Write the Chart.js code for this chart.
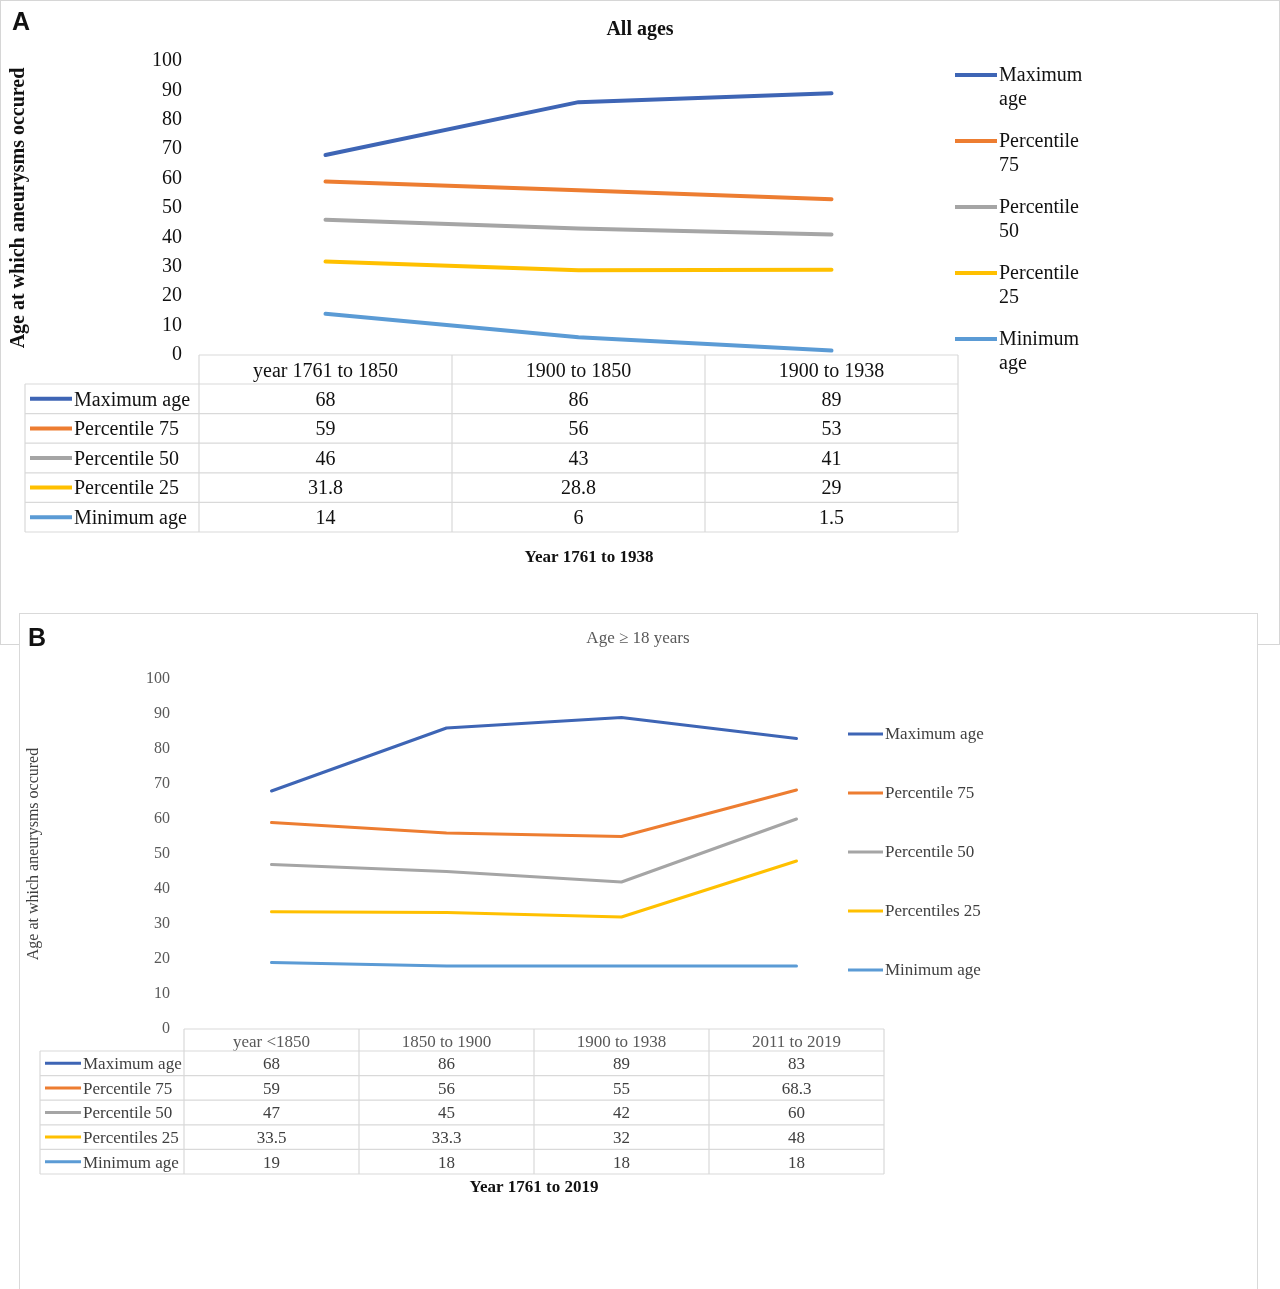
<!DOCTYPE html>
<html>
<head>
<meta charset="utf-8">
<script src="https://cdn.jsdelivr.net/npm/chart.js@4.4.1/dist/chart.umd.min.js"></script>
<style>
  body { margin:0; background:#fff; width:1280px; height:1289px; overflow:hidden; position:relative; }
  .panel { position:absolute; box-sizing:border-box; background:#fff; }
  .tag { position:absolute; font-family:"Liberation Sans", Arial, sans-serif; font-weight:bold; font-size:25px; color:#111; }
  canvas { position:absolute; }
</style>
</head>
<body>
<div class="panel" style="left:0;top:0;width:1280px;height:645px;border:1px solid #d6d6d6;"></div>
<canvas id="chartA" width="1280" height="645" style="left:0;top:0;"></canvas>
<div class="tag" style="left:12px;top:7px;">A</div>

<div class="panel" style="left:19px;top:613px;width:1239px;height:690px;border:1px solid #d9d9d9;"></div>
<canvas id="chartB" width="1238" height="676" style="left:19px;top:613px;"></canvas>
<div class="tag" style="left:28px;top:623px;">B</div>

<script>
var SERIF = "'Liberation Serif', 'Times New Roman', serif";

// panel A : all ages
var categoriesA = ['year 1761 to 1850', '1900 to 1850', '1900 to 1938'];
var maxAgeA = [68, 86, 89];
var p75A = [59, 56, 53];
var p50A = [46, 43, 41];
var p25A = [31.8, 28.8, 29];
var minAgeA = [14, 6, 1.5];
var namesA = ['Maximum age', 'Percentile 75', 'Percentile 50', 'Percentile 25', 'Minimum age'];
var legendA = [['Maximum', 'age'], ['Percentile', '75'], ['Percentile', '50'], ['Percentile', '25'], ['Minimum', 'age']];

// panel B : age >= 18 years
var categoriesB = ['year <1850', '1850 to 1900', '1900 to 1938', '2011 to 2019'];
var maxAgeB = [68, 86, 89, 83];
var p75B = [59, 56, 55, 68.3];
var p50B = [47, 45, 42, 60];
var p25B = [33.5, 33.3, 32, 48];
var minAgeB = [19, 18, 18, 18];
var namesB = ['Maximum age', 'Percentile 75', 'Percentile 50', 'Percentiles 25', 'Minimum age'];
var legendB = [['Maximum age'], ['Percentile 75'], ['Percentile 50'], ['Percentiles 25'], ['Minimum age']];

var seriesColors = ['#3E65B5', '#ED7D31', '#A5A5A5', '#FFC000', '#5B9BD5'];

// draws the excel style data table under the plot, plus the side legend
var tablePlugin = {
  id: 'dataTable',
  afterDraw: function(chart, args, o) {
    var ctx = chart.ctx;
    var xs = chart.scales.x;
    var area = chart.chartArea;
    var sets = chart.data.datasets;
    var n = chart.data.labels.length;
    var colW = (area.right - area.left) / n;
    var top = area.bottom;
    var headBottom = top + o.headH;
    var bottom = headBottom + sets.length * o.rowH;
    ctx.save();
    ctx.strokeStyle = o.gridColor;
    ctx.lineWidth = 1.2;
    ctx.beginPath();
    ctx.moveTo(area.left, top); ctx.lineTo(area.right, top);
    for (var c = 0; c <= n; c++) {
      var gx = area.left + c * colW;
      ctx.moveTo(gx, top); ctx.lineTo(gx, bottom);
    }
    for (var r = 0; r <= sets.length; r++) {
      var gy = headBottom + r * o.rowH;
      ctx.moveTo(o.left, gy); ctx.lineTo(area.right, gy);
    }
    ctx.moveTo(o.left, headBottom); ctx.lineTo(o.left, bottom);
    ctx.stroke();

    ctx.textBaseline = 'middle';
    ctx.font = o.font;
    ctx.fillStyle = o.textColor;
    for (var i = 0; i < sets.length; i++) {
      var cy = headBottom + (i + 0.5) * o.rowH;
      ctx.strokeStyle = sets[i].borderColor;
      ctx.lineWidth = o.keyWidth;
      ctx.beginPath();
      ctx.moveTo(o.left + 5, cy); ctx.lineTo(o.left + 5 + o.keyLen, cy);
      ctx.stroke();
      ctx.textAlign = 'left';
      ctx.fillText(o.names[i], o.left + 7 + o.keyLen, cy + 1.5);
      ctx.textAlign = 'center';
      for (var j = 0; j < n; j++) {
        ctx.fillText(String(sets[i].data[j]), xs.getPixelForValue(j), cy + 1.5);
      }
    }

    // axis title under the table
    ctx.font = o.xTitleFont;
    ctx.fillStyle = '#111';
    ctx.textAlign = 'center';
    ctx.fillText(o.xTitle, o.xTitleX, o.xTitleY);

    // legend on the right
    ctx.font = o.legendFont;
    ctx.fillStyle = o.legendColor;
    ctx.textAlign = 'left';
    for (var k = 0; k < sets.length; k++) {
      var ly = o.legendY + k * o.legendGap;
      ctx.strokeStyle = sets[k].borderColor;
      ctx.lineWidth = o.keyWidth;
      ctx.beginPath();
      ctx.moveTo(o.legendX, ly); ctx.lineTo(o.legendX + o.legendKey, ly);
      ctx.stroke();
      var lines = o.legendText[k];
      for (var m = 0; m < lines.length; m++) {
        ctx.fillText(lines[m], o.legendX + o.legendKey + 2, ly + 1 + m * o.legendLine);
      }
    }
    ctx.restore();
  }
};

function buildSets(series, width) {
  var out = [];
  for (var i = 0; i < series.length; i++) {
    out.push({
      label: series[i][0],
      data: series[i][1],
      borderColor: seriesColors[i],
      backgroundColor: seriesColors[i],
      borderWidth: width,
      borderCapStyle: 'round',
      borderJoinStyle: 'round',
      pointRadius: 0,
      tension: 0,
      fill: false
    });
  }
  return out;
}

// empty right hand scale, only there to keep room for the legend
function spacer(w) {
  return {
    position: 'right', display: true,
    grid: { display: false, drawTicks: false },
    border: { display: false },
    ticks: { display: false },
    afterFit: function(s) { s.width = w; }
  };
}

// chart A
new Chart(document.getElementById('chartA'), {
  type: 'line',
  data: {
    labels: categoriesA,
    datasets: buildSets([
      [namesA[0], maxAgeA], [namesA[1], p75A], [namesA[2], p50A], [namesA[3], p25A], [namesA[4], minAgeA]
    ], 4)
  },
  plugins: [tablePlugin],
  options: {
    responsive: false,
    animation: false,
    layout: { padding: 0 },
    plugins: {
      legend: { display: false },
      tooltip: { enabled: false },
      title: {
        display: true, text: 'All ages', color: '#111',
        font: { family: SERIF, size: 20, weight: 'bold' },
        padding: { top: 18, bottom: 19 }
      },
      dataTable: {
        left: 25, headH: 29, rowH: 29.6, gridColor: '#d9d9d9',
        font: '20px ' + SERIF, textColor: '#111', keyWidth: 4, keyLen: 42,
        names: namesA,
        xTitle: 'Year 1761 to 1938', xTitleFont: 'bold 17px ' + SERIF, xTitleX: 589, xTitleY: 558,
        legendX: 955, legendY: 75, legendGap: 66, legendLine: 24, legendKey: 42,
        legendFont: '20px ' + SERIF, legendColor: '#111', legendText: legendA
      }
    },
    scales: {
      x: {
        offset: true,
        grid: { display: false, drawTicks: false },
        border: { display: false },
        ticks: { autoSkip: false, maxRotation: 0, padding: 5, color: '#111', font: { family: SERIF, size: 20 } },
        afterFit: function(s) { s.height = 290; }
      },
      y: {
        min: 0, max: 100,
        grid: { display: false, drawTicks: false },
        border: { display: false },
        ticks: { stepSize: 10, padding: 17, color: '#111', font: { family: SERIF, size: 20 } },
        title: {
          display: true, text: 'Age at which aneurysms occured', color: '#111',
          font: { family: SERIF, size: 20, weight: 'bold' }, padding: { top: 7, bottom: 0 }
        },
        afterFit: function(s) { s.width = 199; }
      },
      gap: spacer(322)
    }
  }
});

// chart B
new Chart(document.getElementById('chartB'), {
  type: 'line',
  data: {
    labels: categoriesB,
    datasets: buildSets([
      [namesB[0], maxAgeB], [namesB[1], p75B], [namesB[2], p50B], [namesB[3], p25B], [namesB[4], minAgeB]
    ], 3)
  },
  plugins: [tablePlugin],
  options: {
    responsive: false,
    animation: false,
    layout: { padding: 0 },
    plugins: {
      legend: { display: false },
      tooltip: { enabled: false },
      title: {
        display: true, text: 'Age \u2265 18 years', color: '#595959',
        font: { family: SERIF, size: 17, weight: 'normal' },
        padding: { top: 15, bottom: 30.6 }
      },
      dataTable: {
        left: 21, headH: 22, rowH: 24.6, gridColor: '#d9d9d9',
        font: '17px ' + SERIF, textColor: '#404040', keyWidth: 3, keyLen: 36,
        names: namesB,
        xTitle: 'Year 1761 to 2019', xTitleFont: 'bold 17px ' + SERIF, xTitleX: 515, xTitleY: 575,
        legendX: 829, legendY: 121, legendGap: 59, legendLine: 20, legendKey: 35,
        legendFont: '17px ' + SERIF, legendColor: '#404040', legendText: legendB
      }
    },
    scales: {
      x: {
        offset: true,
        grid: { display: false, drawTicks: false },
        border: { display: false },
        ticks: { autoSkip: false, maxRotation: 0, padding: 3, color: '#595959', font: { family: SERIF, size: 17 } },
        afterFit: function(s) { s.height = 260; }
      },
      y: {
        min: 0, max: 100,
        grid: { display: false, drawTicks: false },
        border: { display: false },
        ticks: { stepSize: 10, padding: 14, color: '#595959', font: { family: SERIF, size: 16 } },
        title: {
          display: true, text: 'Age at which aneurysms occured', color: '#404040',
          font: { family: SERIF, size: 16 }, padding: { top: 5, bottom: 0 }
        },
        afterFit: function(s) { s.width = 165; }
      },
      gap: spacer(373)
    }
  }
});
</script>
</body>
</html>
